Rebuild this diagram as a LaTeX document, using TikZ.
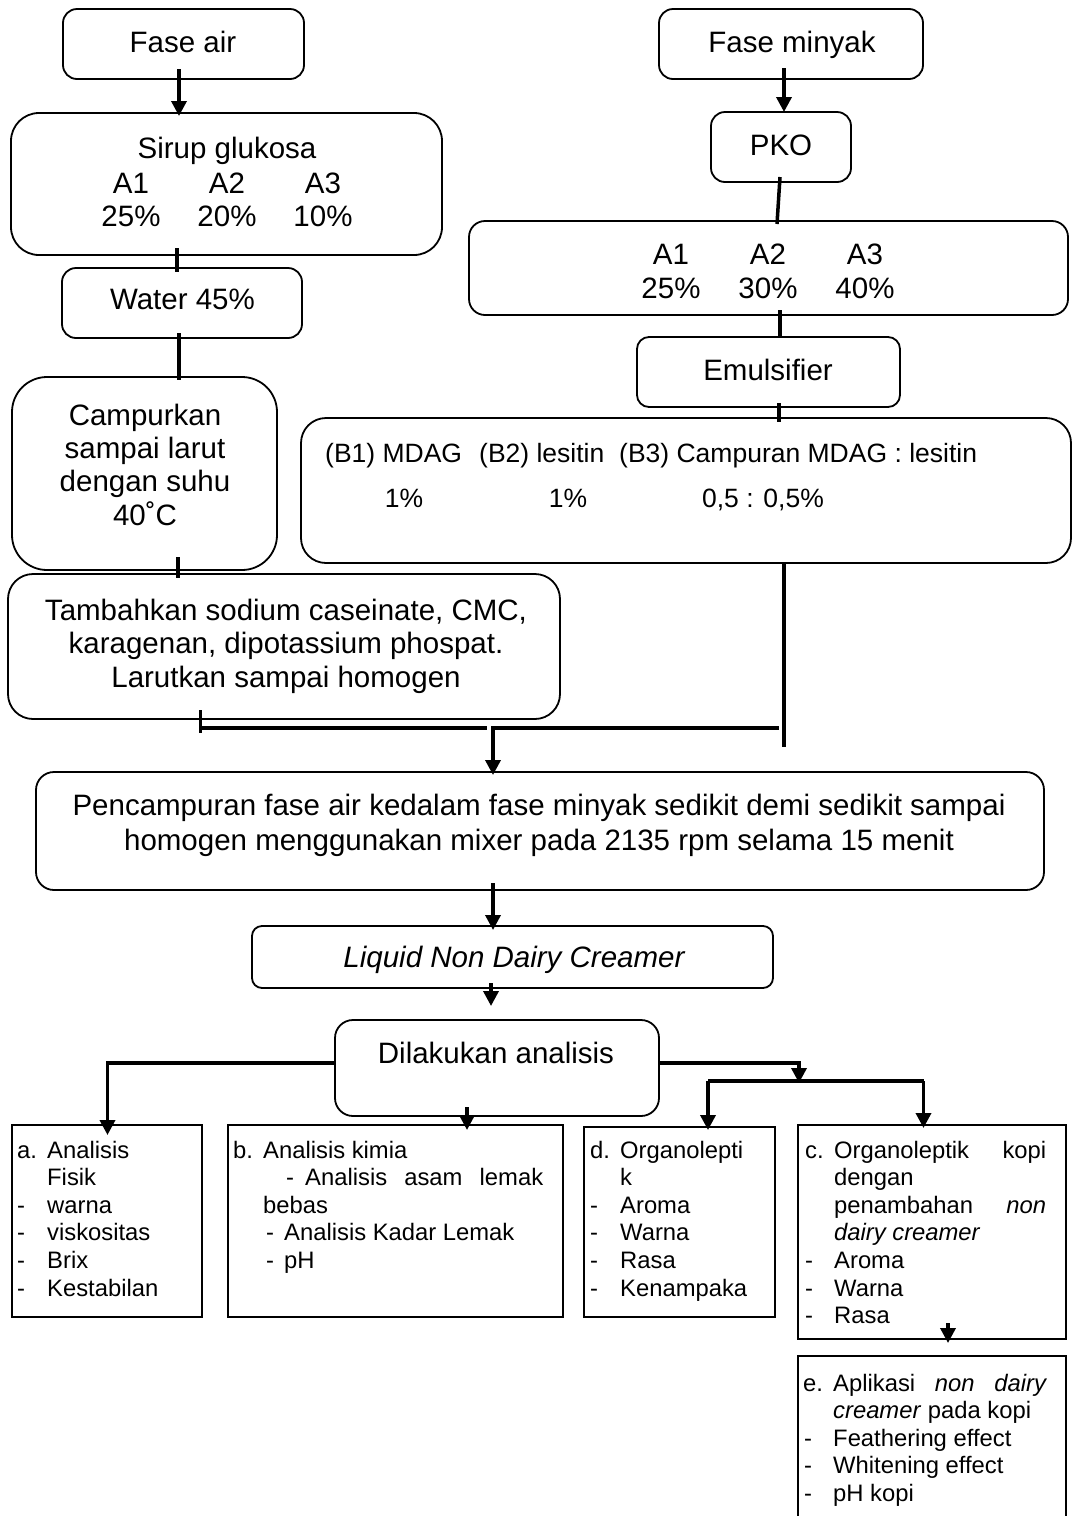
\documentclass[tikz,border=0pt]{standalone}
\usepackage{fontspec}
\setmainfont{Liberation Sans}
\usetikzlibrary{arrows.meta,calc}
\newcommand\fmain{\fontsize{29.5}{34}\selectfont}
\newcommand\fsmall{\fontsize{23.8}{27.6}\selectfont}
\newcommand\fmid{\fontsize{26.5}{30}\selectfont}
\tikzset{
  bx/.style={draw, line width=1.8pt, inner sep=0pt, outer sep=0pt},
  ln/.style={line width=3.5pt},
  thk/.style={line width=4.5pt},
  arr/.style={line width=3.5pt, -{Triangle[width=15pt,length=15pt]}},
  mt/.style={font=\fmain, inner sep=0pt, anchor=base},
  bt/.style={font=\fmid, inner sep=0pt, anchor=base west},
  btc/.style={font=\fmid, inner sep=0pt, anchor=base},
  st/.style={font=\fsmall, inner sep=0pt, anchor=base west},
}
\begin{document}
\begin{tikzpicture}[x=1pt,y=-1pt]
\fill[white] (0,0) rectangle (1073,1516);
\useasboundingbox (0,0) rectangle (1073,1516);

% ---------- boxes ----------
\node[bx, rounded corners=14pt, minimum width=241pt, minimum height=70pt] (fa) at (183.5,44) {};
\node[bx, rounded corners=14pt, minimum width=264pt, minimum height=70pt] (fm) at (791,44) {};
\node[bx, rounded corners=28pt, minimum width=431pt, minimum height=142pt] (sg) at (226.5,184) {};
\node[bx, rounded corners=14pt, minimum width=140pt, minimum height=70pt] (pko) at (781,147) {};
\node[bx, rounded corners=14pt, minimum width=240pt, minimum height=70pt] (wt) at (182,303) {};
\node[bx, rounded corners=16pt, minimum width=599pt, minimum height=94pt] (ab) at (768.5,268) {};
\node[bx, rounded corners=12pt, minimum width=263pt, minimum height=70pt] (em) at (768.5,372) {};
\node[bx, rounded corners=35pt, minimum width=265pt, minimum height=193pt] (cp) at (144.5,473.5) {};
\node[bx, rounded corners=25pt, minimum width=770pt, minimum height=145pt] (bb) at (686,490.5) {};
\node[bx, rounded corners=25pt, minimum width=552pt, minimum height=145pt] (tb) at (284,646.5) {};
\node[bx, rounded corners=18pt, minimum width=1008pt, minimum height=118pt] (pc) at (540,831) {};
\node[bx, rounded corners=10pt, minimum width=521pt, minimum height=62pt] (ld) at (512.5,957) {};
\node[bx, rounded corners=18pt, minimum width=324pt, minimum height=96pt] (da) at (497,1068) {};
\node[bx, minimum width=190pt, minimum height=192pt] (a) at (107,1221) {};
\node[bx, minimum width=335pt, minimum height=192pt] (b) at (395.5,1221) {};
\node[bx, minimum width=191pt, minimum height=190pt] (d) at (679.5,1222) {};
\node[bx, minimum width=268pt, minimum height=214pt] (c) at (932,1232) {};
\node[inner sep=0pt, outer sep=0pt, minimum width=268pt, minimum height=175pt] (e) at (932,1443.5) {};
\draw[line width=1.8pt] (e.south west) -- (e.north west) -- (e.north east) -- (e.south east);

% ---------- texts, top part ----------
\node[mt] (tfa) at (183,52) {Fase air};
\node[mt] (tfm) at (792,52) {Fase minyak};
\node[mt] (tsg) at (227,158) {Sirup glukosa};
\node[mt] (tsa1) at (131,193) {A1};
\node[mt] (tsa2) at (227,193) {A2};
\node[mt] (tsa3) at (323,193) {A3};
\node[mt] (tsp1) at (131,226) {25\%};
\node[mt] (tsp2) at (227,226) {20\%};
\node[mt] (tsp3) at (323,226) {10\%};
\node[mt] (tpko) at (781,155) {PKO};
\node[mt] (taa1) at (671,264) {A1};
\node[mt] (taa2) at (768,264) {A2};
\node[mt] (taa3) at (865,264) {A3};
\node[mt] (tap1) at (671,298) {25\%};
\node[mt] (tap2) at (768,298) {30\%};
\node[mt] (tap3) at (865,298) {40\%};
\node[mt] (twt) at (182.5,309) {Water 45\%};
\node[mt] (tem) at (768,380) {Emulsifier};
\node[mt] (tcp1) at (145,425) {Campurkan};
\node[mt] (tcp2) at (145,458) {sampai larut};
\node[mt] (tcp3) at (145,491) {dengan suhu};
\node[mt] (tcp4) at (145,525) {40˚C};
\node[bt] (tb1) at (325,462) {(B1) MDAG};
\node[bt] (tb2) at (479,462) {(B2) lesitin};
\node[bt] (tb3) at (619,462) {(B3) Campuran MDAG : lesitin};
\node[btc] (tb4) at (404,507) {1\%};
\node[btc] (tb5) at (568,507) {1\%};
\node[btc] (tb6) at (763,507) {0,5 : 0,5\%};
\node[mt] (ttb1) at (286,620) {Tambahkan sodium caseinate, CMC,};
\node[mt] (ttb2) at (286,653) {karagenan, dipotassium phospat.};
\node[mt] (ttb3) at (286,687) {Larutkan sampai homogen};
\node[mt] (tpc1) at (539,815) {Pencampuran fase air kedalam fase minyak sedikit demi sedikit sampai};
\node[mt] (tpc2) at (539,850) {homogen menggunakan mixer pada 2135 rpm selama 15 menit};
\node[mt] (tld) at (514,967) {\itshape Liquid Non Dairy Creamer};
\node[mt] (tda) at (496,1063) {Dilakukan analisis};

% ---------- texts, bottom boxes ----------
\node[st] (ta0) at (17,1158) {a.};
\node[st] (ta1) at (47,1158) {Analisis};
\node[st] (ta2) at (47,1185.6) {Fisik};
\node[st] (ta3d) at (17,1213.2) {-};
\node[st] (ta3) at (47,1213.2) {warna};
\node[st] (ta4d) at (17,1240.8) {-};
\node[st] (ta4) at (47,1240.8) {viskositas};
\node[st] (ta5d) at (17,1268.4) {-};
\node[st] (ta5) at (47,1268.4) {Brix};
\node[st] (ta6d) at (17,1296) {-};
\node[st] (ta6) at (47,1296) {Kestabilan};

\node[st] (tbb0) at (233,1158) {b.};
\node[st] (tbb1) at (263,1158) {Analisis kimia};
\node[st] (tbb2d) at (286,1185.6) {-};
\node[st] (tbb2) at (305,1185.6) {\hbox to 238pt{Analisis\hfill asam\hfill lemak}};
\node[st] (tbb3) at (263,1213.2) {bebas};
\node[st] (tbb4d) at (266,1240.8) {-};
\node[st] (tbb4) at (284,1240.8) {Analisis Kadar Lemak};
\node[st] (tbb5d) at (266,1268.4) {-};
\node[st] (tbb5) at (284,1268.4) {pH};

\node[st] (td0) at (590,1158) {d.};
\node[st] (td1) at (620,1158) {Organolepti};
\node[st] (td2) at (620,1185.6) {k};
\node[st] (td3d) at (590,1213.2) {-};
\node[st] (td3) at (620,1213.2) {Aroma};
\node[st] (td4d) at (590,1240.8) {-};
\node[st] (td4) at (620,1240.8) {Warna};
\node[st] (td5d) at (590,1268.4) {-};
\node[st] (td5) at (620,1268.4) {Rasa};
\node[st] (td6d) at (590,1296) {-};
\node[st] (td6) at (620,1296) {Kenampaka};

\node[st] (tc0) at (805,1158) {c.};
\node[st] (tc1) at (834,1158) {\hbox to 212pt{Organoleptik\hfill kopi}};
\node[st] (tc2) at (834,1185.6) {dengan};
\node[st] (tc3) at (834,1213.2) {\hbox to 212pt{penambahan\hfill\itshape non}};
\node[st] (tc4) at (834,1240.8) {\itshape dairy creamer};
\node[st] (tc5d) at (805,1268.4) {-};
\node[st] (tc5) at (834,1268.4) {Aroma};
\node[st] (tc6d) at (805,1296) {-};
\node[st] (tc6) at (834,1296) {Warna};
\node[st] (tc7d) at (805,1323.6) {-};
\node[st] (tc7) at (834,1323.6) {Rasa};

\node[st] (te0) at (803,1391) {e.};
\node[st] (te1) at (833,1391) {\hbox to 214pt{Aplikasi\hfill\textit{non}\hfill\textit{dairy}}};
\node[st] (te2) at (833,1418.6) {\textit{creamer} pada kopi};
\node[st] (te3d) at (804,1446.2) {-};
\node[st] (te3) at (833,1446.2) {Feathering effect};
\node[st] (te4d) at (804,1473.8) {-};
\node[st] (te4) at (833,1473.8) {Whitening effect};
\node[st] (te5d) at (804,1501.4) {-};
\node[st] (te5) at (833,1501.4) {pH kopi};

% ---------- connectors ----------
\draw[arr] ($(fa.south)+(-4.5,-10)$) -- ($(sg.north -| fa.south)+(-4.5,3)$);
\draw[ln] ($(sg.south -| wt.north)+(-5,-7)$) -- ($(wt.north)+(-5,4)$);
\draw[ln] ($(wt.south)+(-3,-5)$) -- ($(cp.north -| wt.south)+(-3,3)$);
\draw[ln] ($(cp.south -| wt.south)+(-4,-13)$) -- ($(tb.north -| wt.south)+(-4,4)$);

\draw[arr] ($(fm.south)+(-7,-11)$) -- ($(pko.north)+(3,0)$);
\draw[ln] ($(pko.south)+(-1,-5)$) -- ($(ab.north)+(8.5,3)$);
\draw[ln] ($(ab.south)+(11.5,-5)$) -- ($(em.north)+(11.5,1)$);
\draw[ln] ($(em.south)+(10.5,-4)$) -- ($(bb.north -| em.south)+(10.5,4)$);

\coordinate (jL) at ($(tb.south)+(-84,9)$);
\coordinate (jA) at ($(pc.north)+(-47,-44)$);
\coordinate (jR) at ($(bb.south)+(98,165)$);
\draw[line width=3pt] ($(tb.south)+(-84,-9)$) -- ($(tb.south)+(-84,14)$);
\draw[ln] ($(bb.south)+(98,0)$) -- ($(bb.south)+(98,184)$);
\draw[thk] (jL) -- ($(jA)+(-6,0)$);
\draw[thk] ($(jA)+(1,0)$) -- ($(jR)+(-5,0)$);
\draw[arr] ($(jA)+(0,-2)$) -- ($(pc.north)+(-47,3)$);

\draw[arr] ($(pc.south)+(-47,-7)$) -- ($(ld.north)+(-19.5,4)$);
\draw[arr] ($(ld.south)+(-21.5,-5)$) -- ($(da.north)+(-6,-14)$);

\draw[arr] ($(da.west)+(0,-5)$) -| ($(a.north)+(0.5,10)$);
\draw[arr] ($(da.south)+(-30,-9)$) -- ($(b.north)+(71.5,5)$);
\coordinate (jn) at ($(da.east)+(140,13)$);
\draw[arr] ($(da.east)+(0,-5)$) -| ($(jn)+(0,2)$);
\coordinate (dL) at ($(d.north)+(28.5,3)$);
\coordinate (cL) at ($(c.north)+(-8.5,3)$);
\draw[line width=4pt] (dL |- jn) -- (cL |- jn);
\draw[arr] (dL |- jn) -- (dL);
\draw[arr] (cL |- jn) -- (cL);

\draw[arr] ($(c.south)+(16,-16)$) -- ($(e.north)+(16,-13)$);
\end{tikzpicture}
\end{document}
